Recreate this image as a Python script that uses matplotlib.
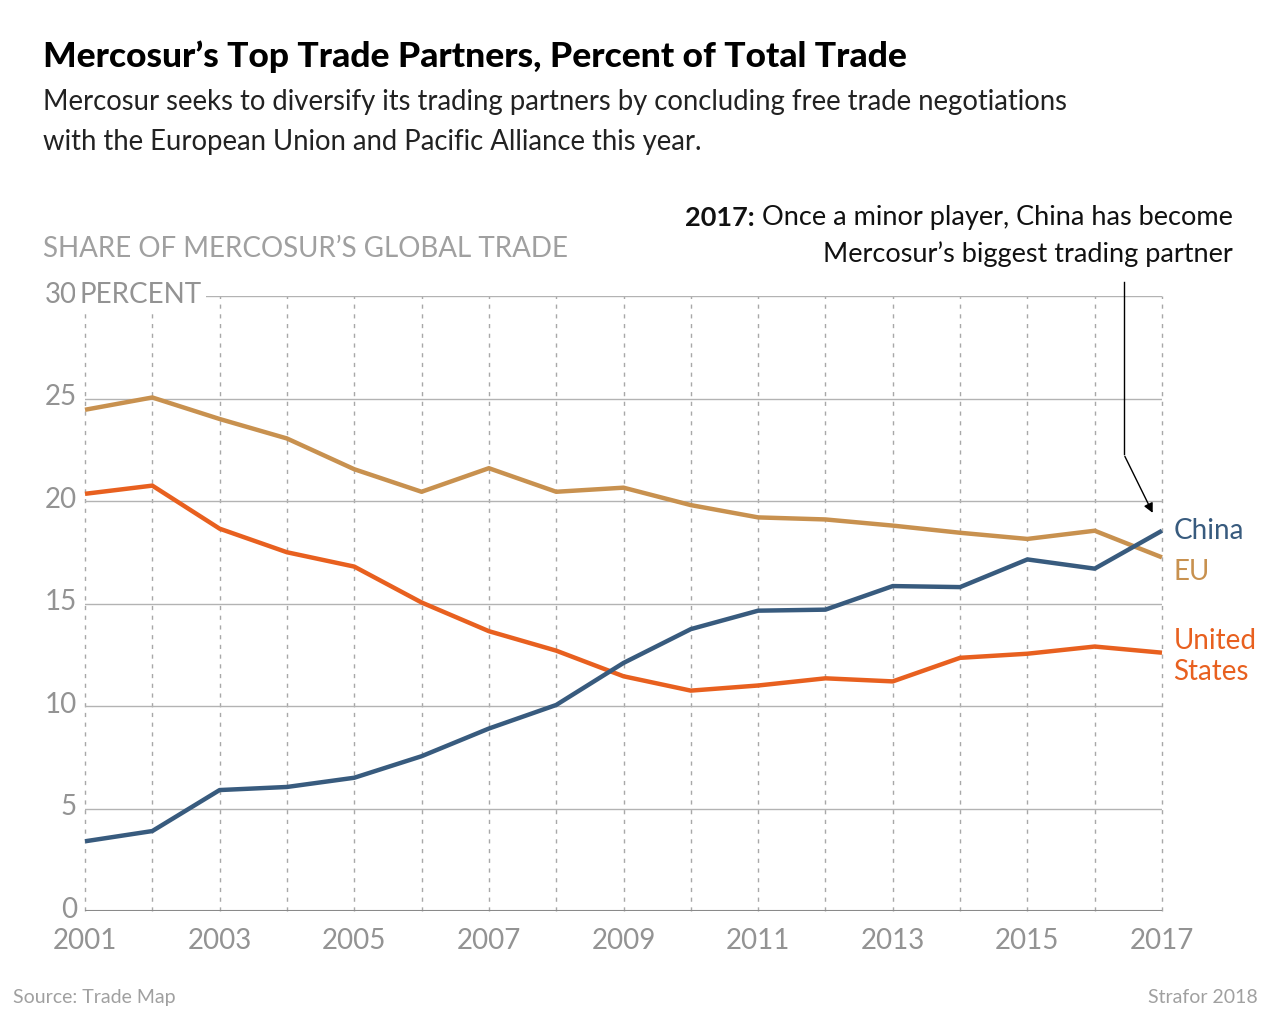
import numpy as np
import matplotlib
matplotlib.use('Agg')
import matplotlib.pyplot as plt

plt.rcParams['font.family'] = ['Lato', 'DejaVu Sans']

YEARS = list(range(2001, 2018))
CHINA = [3.4, 3.9, 5.9, 6.05, 6.5, 7.55, 8.9, 10.05, 12.1, 13.75, 14.65, 14.7,
         15.85, 15.8, 17.15, 16.7, 18.55]
EU = [24.45, 25.05, 24.0, 23.05, 21.55, 20.45, 21.6, 20.45, 20.65, 19.8, 19.2,
      19.1, 18.8, 18.45, 18.15, 18.55, 17.25]
US = [20.35, 20.75, 18.65, 17.5, 16.8, 15.05, 13.65, 12.7, 11.45, 10.75, 11.0,
      11.35, 11.2, 12.35, 12.55, 12.9, 12.6]
Y_TICKS = [0, 5, 10, 15, 20, 25, 30]
X_LABELS = [2001, 2003, 2005, 2007, 2009, 2011, 2013, 2015, 2017]

C_CHINA = '#385b7e'
C_EU = '#c8914f'
C_US = '#e8601f'
GRID = '#b3b3b3'
TXT_GRAY = '#939393'

W, H = 1280, 1020
fig = plt.figure(figsize=(W / 100, H / 100), dpi=100)
x0, x1, y0, y1 = 85, 1162, 912, 297
ax = fig.add_axes([x0 / W, 1 - y0 / H, (x1 - x0) / W, (y0 - y1) / H])
ax.set_xlim(2001, 2017)
ax.set_ylim(0, 30)
ax.axis('off')

# vertical dotted year lines
for yr in YEARS:
    ax.plot([yr, yr], [0, 30], color='#a8a8a8', lw=1, ls=(0, (3, 4)),
            zorder=1, clip_on=False)
# horizontal gridlines
for v in Y_TICKS[1:-1]:
    ax.plot([2001, 2017], [v, v], color=GRID, lw=1, zorder=1)
ax.plot([2002.7, 2017], [30, 30], color=GRID, lw=1, zorder=1)
ax.plot([2001, 2017], [0, 0], color='#8a8a8a', lw=1.5, zorder=2)

for vals, c in [(EU, C_EU), (US, C_US), (CHINA, C_CHINA)]:
    ax.plot(YEARS, vals, color=c, lw=3.2, zorder=3, solid_capstyle='butt',
            solid_joinstyle='round', clip_on=False)

# tick labels
for v in Y_TICKS:
    ax.text(2001 - 0.12, v + 0.1, str(v), ha='right', va='center', fontsize=20,
            color=TXT_GRAY)
ax.text(2001 - 0.08, 30.1, 'PERCENT', ha='left', va='center', fontsize=20,
        color=TXT_GRAY, zorder=5,
        bbox=dict(facecolor='white', edgecolor='none', pad=3))
for yr in X_LABELS:
    ax.text(yr, -0.8, str(yr), ha='center', va='top', fontsize=20,
            color=TXT_GRAY)

# series labels
ax.text(2017.17, CHINA[-1] + 0.05, 'China', ha='left', va='center', fontsize=20,
        color=C_CHINA)
ax.text(2017.17, 16.6, 'EU', ha='left', va='center', fontsize=20, color=C_EU)
ax.text(2017.17, 12.45, 'United\nStates', ha='left', va='center', fontsize=20,
        color=C_US, linespacing=1.25)

# annotation arrow
ax.annotate('', xy=(2016.88, 19.3), xytext=(2016.43, 22.3),
            arrowprops=dict(arrowstyle='-|>', color='black', lw=1,
                            mutation_scale=14), zorder=4)
ax.plot([2016.43, 2016.43], [22.3, 30.7], color='black', lw=1, clip_on=False)

fig.text(43 / W, 1 - 57 / H, 'Mercosur’s Top Trade Partners, Percent of Total Trade',
         fontsize=25.5, fontweight='black', ha='left', va='center', color='black')
fig.text(43 / W, 1 - 122 / H,
         'Mercosur seeks to diversify its trading partners by concluding free trade negotiations\n'
         'with the European Union and Pacific Alliance this year.',
         fontsize=19.8, ha='left', va='center', color='#222222', linespacing=1.65)
fig.text(43 / W, 1 - 249 / H, 'SHARE OF MERCOSUR’S GLOBAL TRADE', fontsize=20,
         ha='left', va='center', color='#a0a0a0')

rest = fig.text(1233 / W, 1 - 218 / H, ' Once a minor player, China has become',
                fontsize=19.5, ha='right', va='center', color='#111111')
fig.canvas.draw()
bb = rest.get_window_extent()
fig.text(bb.x0 / W, 1 - 218 / H, '2017:', fontsize=19.5, fontweight='bold',
         ha='right', va='center', color='#111111')
fig.text(1233 / W, 1 - 254 / H, 'Mercosur’s biggest trading partner',
         fontsize=19.5, ha='right', va='center', color='#111111')

fig.text(13 / W, 1 - 998 / H, 'Source: Trade Map', fontsize=14, ha='left',
         va='center', color='#a0a0a0')
fig.text(1258 / W, 1 - 998 / H, 'Strafor 2018', fontsize=14, ha='right',
         va='center', color='#a0a0a0')

fig.savefig('out.png', dpi=100, facecolor='white')
